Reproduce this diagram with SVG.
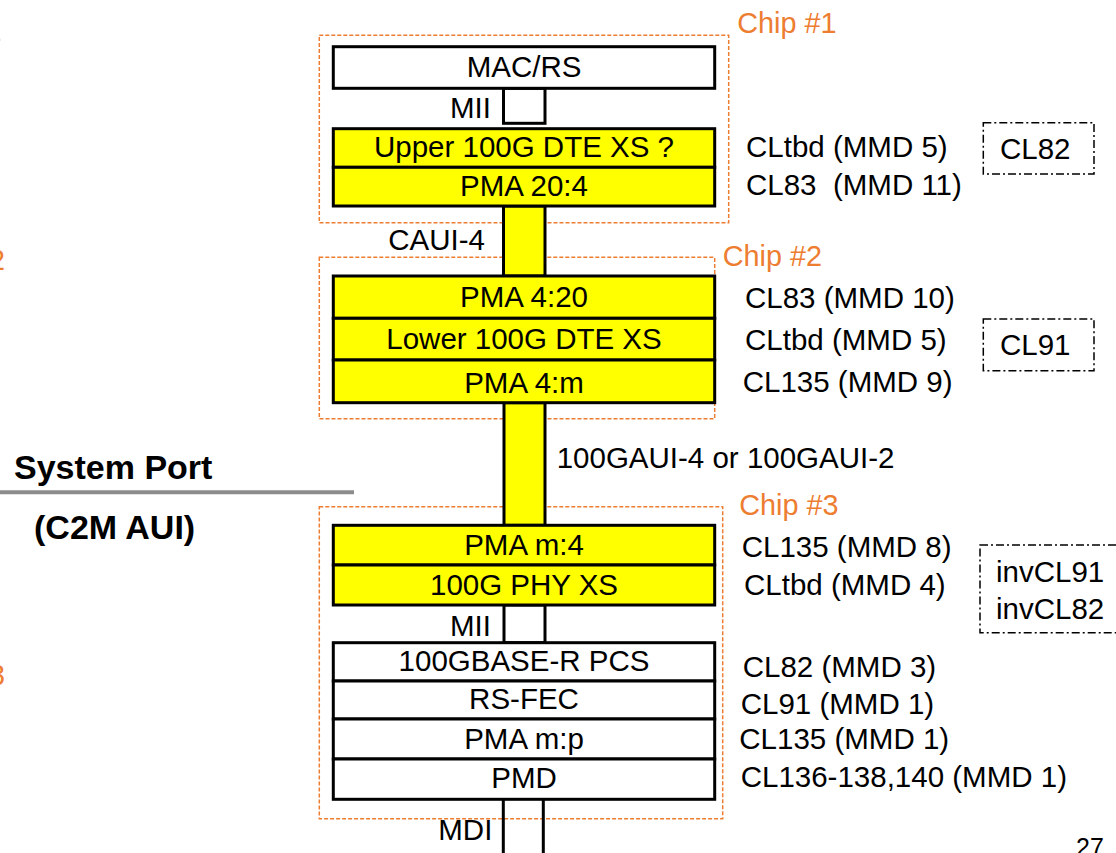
<svg xmlns="http://www.w3.org/2000/svg" width="1116" height="853" viewBox="0 0 1116 853">
<style>
text{font-family:"Liberation Sans",Arial,sans-serif;fill:#000}
.bx{font-size:29.5px;text-anchor:middle}
.lb{font-size:29.5px;white-space:pre}
.chip{font-size:28.8px;fill:#ED7D31}
.bold{font-size:34px;font-weight:bold}
.layer{stroke:#000;stroke-width:3}
.y{fill:#FFFF00}
.w{fill:#FFFFFF}
.chipbox{fill:none;stroke:#ED7D31;stroke-width:1.5;stroke-dasharray:4 2}
.dd{fill:none;stroke:#000;stroke-width:1.5;stroke-dasharray:8 3 2 3}
</style>
<rect width="1116" height="853" fill="#fff"/>

<!-- partially visible left labels -->
<text class="chip" x="1.5" y="40.5" text-anchor="end">1</text>
<text class="chip" x="5" y="270" text-anchor="end">2</text>
<text class="chip" x="5" y="685" text-anchor="end">3</text>

<g id="systemport">
<text class="bold" x="14" y="479">System Port</text>
<line x1="0" y1="492.3" x2="354" y2="492.3" stroke="#8C8C8C" stroke-width="4"/>
<text class="bold" x="34" y="539">(C2M AUI)</text>
</g>

<!-- chip frames -->
<g id="chip1">
<rect class="chipbox" x="319.3" y="35.3" width="409.4" height="187.4"/>
<text class="chip" x="737.3" y="33.3">Chip #1</text>
</g>
<g id="chip2">
<rect class="chipbox" x="319.3" y="257.3" width="395.4" height="161.4"/>
<text class="chip" x="722.7" y="266">Chip #2</text>
</g>
<g id="chip3">
<rect class="chipbox" x="319.3" y="506.7" width="403.4" height="312"/>
<text class="chip" x="739.3" y="515">Chip #3</text>
</g>

<!-- connectors -->
<g id="connectors">
<rect class="layer w" x="503.5" y="88.3" width="41.5" height="35"/>
<rect class="layer y" x="503.5" y="206" width="41.5" height="70"/>
<rect class="layer y" x="504" y="402.7" width="41" height="122.6"/>
<rect class="layer w" x="504" y="605" width="41" height="37.7"/>
<line class="layer" x1="503.3" y1="799.3" x2="503.3" y2="853"/>
<line class="layer" x1="543.3" y1="799.3" x2="543.3" y2="853"/>
<text class="lb" x="450" y="118.3">MII</text>
<text class="lb" x="388.3" y="250">CAUI-4</text>
<text class="lb" x="556.7" y="468.3">100GAUI-4 or 100GAUI-2</text>
<text class="lb" x="450" y="636">MII</text>
<text class="lb" x="438.3" y="840">MDI</text>
</g>

<!-- chip 1 layers -->
<g id="macrs">
<rect class="layer w" x="333.3" y="46.7" width="381.4" height="41.6"/>
<text class="bx" x="524" y="77.3">MAC/RS</text>
</g>
<g id="upperdtexs">
<rect class="layer y" x="333.3" y="128.7" width="381.4" height="38.6"/>
<text class="bx" x="524" y="157.3">Upper 100G DTE XS ?</text>
</g>
<g id="pma20_4">
<rect class="layer y" x="333.3" y="167.3" width="381.4" height="38.7"/>
<text class="bx" x="524" y="196">PMA 20:4</text>
</g>

<!-- chip 2 layers -->
<g id="pma4_20">
<rect class="layer y" x="333.3" y="276" width="381.4" height="42.3"/>
<text class="bx" x="524" y="307.3">PMA 4:20</text>
</g>
<g id="lowerdtexs">
<rect class="layer y" x="333.3" y="318.3" width="381.4" height="41.7"/>
<text class="bx" x="524" y="349.3">Lower 100G DTE XS</text>
</g>
<g id="pma4_m">
<rect class="layer y" x="333.3" y="360" width="381.4" height="42.7"/>
<text class="bx" x="524" y="392.7">PMA 4:m</text>
</g>

<!-- chip 3 layers -->
<g id="pmam_4">
<rect class="layer y" x="333.3" y="525.3" width="381.4" height="39.7"/>
<text class="bx" x="524" y="555">PMA m:4</text>
</g>
<g id="phyxs">
<rect class="layer y" x="333.3" y="565" width="381.4" height="40"/>
<text class="bx" x="524" y="595">100G PHY XS</text>
</g>
<g id="pcs">
<rect class="layer w" x="333.3" y="642.7" width="381.4" height="38.3"/>
<text class="bx" x="524" y="671">100GBASE-R PCS</text>
</g>
<g id="rsfec">
<rect class="layer w" x="333.3" y="681" width="381.4" height="38"/>
<text class="bx" x="524" y="709.3">RS-FEC</text>
</g>
<g id="pmam_p">
<rect class="layer w" x="333.3" y="719" width="381.4" height="40"/>
<text class="bx" x="524" y="749.3">PMA m:p</text>
</g>
<g id="pmd">
<rect class="layer w" x="333.3" y="759" width="381.4" height="40.3"/>
<text class="bx" x="524" y="788.3">PMD</text>
</g>

<!-- clause labels -->
<g id="labels">
<text class="lb" x="746" y="156.7">CLtbd (MMD 5)</text>
<text class="lb" x="746" y="195">CL83  (MMD 11)</text>
<text class="lb" x="745" y="308.3">CL83 (MMD 10)</text>
<text class="lb" x="745" y="350">CLtbd (MMD 5)</text>
<text class="lb" x="742.7" y="391.7">CL135 (MMD 9)</text>
<text class="lb" x="741.7" y="556.7">CL135 (MMD 8)</text>
<text class="lb" x="744" y="595">CLtbd (MMD 4)</text>
<text class="lb" x="742.7" y="677.3">CL82 (MMD 3)</text>
<text class="lb" x="740.7" y="714.3">CL91 (MMD 1)</text>
<text class="lb" x="739.3" y="749.3">CL135 (MMD 1)</text>
<text class="lb" x="740.7" y="786.7">CL136-138,140 (MMD 1)</text>
</g>

<g id="cl82box">
<rect class="dd" x="983.3" y="122.7" width="110.7" height="51.3"/>
<text class="lb" x="1000" y="159.3">CL82</text>
</g>
<g id="cl91box">
<rect class="dd" x="983.3" y="319" width="110.7" height="51.7"/>
<text class="lb" x="1000" y="355">CL91</text>
</g>
<g id="invbox">
<rect class="dd" x="980" y="545" width="150" height="87.7"/>
<text class="lb" x="996" y="582.3">invCL91</text>
<text class="lb" x="996" y="619">invCL82</text>
</g>

<text x="1076" y="856" font-size="25">27</text>
</svg>
